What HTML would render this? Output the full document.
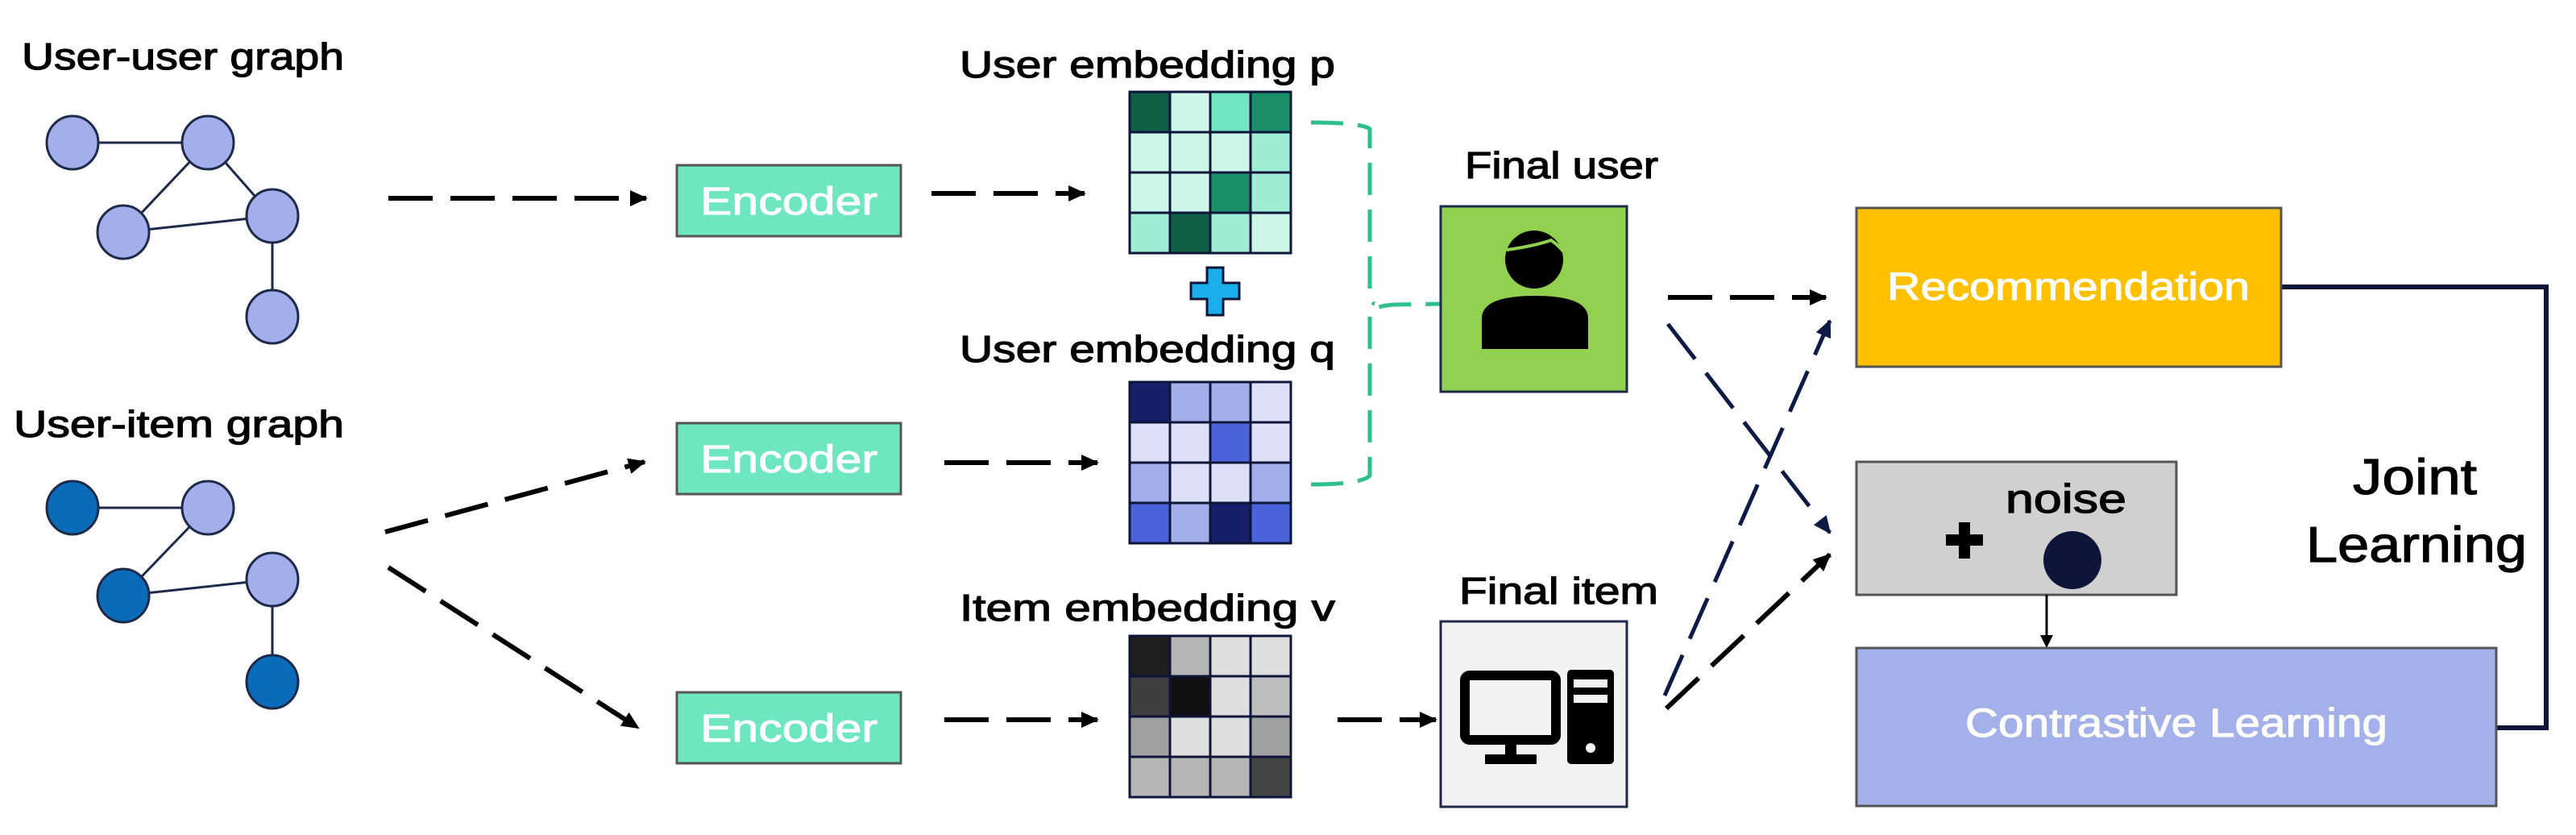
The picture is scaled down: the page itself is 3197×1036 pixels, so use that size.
<!DOCTYPE html>
<html><head><meta charset="utf-8"><style>html,body{margin:0;padding:0;background:#fff}svg{display:block}</style></head>
<body>
<svg width="3197" height="1036" viewBox="0 0 3197 1036" xmlns="http://www.w3.org/2000/svg" font-family="Liberation Sans, sans-serif">
<defs>
<marker id="ab" markerWidth="22" markerHeight="20" refX="20" refY="10" orient="auto" markerUnits="userSpaceOnUse" viewBox="0 0 22 20"><path d="M0,0 L22,10 L0,20z" fill="#000"/></marker>
<marker id="an" markerWidth="22" markerHeight="20" refX="20" refY="10" orient="auto" markerUnits="userSpaceOnUse" viewBox="0 0 22 20"><path d="M0,0 L22,10 L0,20z" fill="#0d1a45"/></marker>
</defs>
<g font-size="46" fill="#000" stroke="#000" stroke-width="1.2">
<text x="27" y="86" textLength="400" lengthAdjust="spacingAndGlyphs">User-user graph</text>
<text x="17" y="542" textLength="410" lengthAdjust="spacingAndGlyphs">User-item graph</text>
<text x="1191" y="96" textLength="466" lengthAdjust="spacingAndGlyphs">User embedding p</text>
<text x="1191" y="449" textLength="466" lengthAdjust="spacingAndGlyphs">User embedding q</text>
<text x="1191" y="770" textLength="466" lengthAdjust="spacingAndGlyphs">Item embedding v</text>
<text x="1818" y="221" textLength="240" lengthAdjust="spacingAndGlyphs">Final user</text>
<text x="1811" y="749" textLength="247" lengthAdjust="spacingAndGlyphs">Final item</text>
</g>
<g stroke="#1e2a4a" stroke-width="3">
<line x1="90" y1="177" x2="258" y2="177"/><line x1="258" y1="177" x2="153" y2="288"/><line x1="258" y1="177" x2="338" y2="268"/><line x1="153" y1="288" x2="338" y2="268"/><line x1="338" y1="268" x2="338" y2="393"/>
<line x1="90" y1="630" x2="258" y2="630"/><line x1="258" y1="630" x2="153" y2="739"/><line x1="153" y1="739" x2="338" y2="719"/><line x1="338" y1="719" x2="338" y2="846"/>
</g>
<g stroke="#1e2a4a" stroke-width="3" fill="#a4aeeb">
<ellipse cx="90" cy="177" rx="32" ry="33"/><ellipse cx="258" cy="177" rx="32" ry="33"/><ellipse cx="153" cy="288" rx="32" ry="33"/><ellipse cx="338" cy="268" rx="32" ry="33"/><ellipse cx="338" cy="393" rx="32" ry="33"/>
<ellipse cx="258" cy="630" rx="32" ry="33"/><ellipse cx="338" cy="719" rx="32" ry="33"/>
<ellipse cx="90" cy="630" rx="32" ry="33" fill="#0a6cb8"/><ellipse cx="153" cy="739" rx="32" ry="33" fill="#0a6cb8"/><ellipse cx="338" cy="846" rx="32" ry="33" fill="#0a6cb8"/>
</g>
<g fill="#6ee6c0" stroke="#555" stroke-width="3">
<rect x="840" y="205" width="278" height="88"/><rect x="840" y="525" width="278" height="88"/><rect x="840" y="859" width="278" height="88"/>
</g>
<g fill="#fff" stroke="#fff" stroke-width="1" font-size="48" text-anchor="middle">
<text x="979" y="266" textLength="220" lengthAdjust="spacingAndGlyphs">Encoder</text><text x="979" y="586" textLength="220" lengthAdjust="spacingAndGlyphs">Encoder</text><text x="979" y="920" textLength="220" lengthAdjust="spacingAndGlyphs">Encoder</text>
</g>
<g stroke="#000" stroke-width="6" stroke-dasharray="55,22" fill="none" marker-end="url(#ab)">
<line x1="482" y1="246" x2="802" y2="246"/>
<line x1="478" y1="660" x2="800" y2="573"/>
<line x1="482" y1="704" x2="792" y2="903"/>
<line x1="1156" y1="240" x2="1346" y2="240"/>
<line x1="1172" y1="574" x2="1362" y2="574"/>
<line x1="1172" y1="893" x2="1362" y2="893"/>
<line x1="1660" y1="893" x2="1782" y2="893"/>
<line x1="2070" y1="369" x2="2266" y2="369"/>
<line x1="2068" y1="879" x2="2271" y2="688"/>
</g>
<g stroke="#0d1a45" stroke-width="5" stroke-dasharray="55,22" fill="none" marker-end="url(#an)">
<line x1="2070" y1="402" x2="2271" y2="661"/>
<line x1="2066" y1="863" x2="2271" y2="398"/>
</g>
<g stroke="#0d1538" stroke-width="3">
<rect x="1402" y="114" width="50" height="50" fill="#0f5e46"/><rect x="1452" y="114" width="50" height="50" fill="#cdf5e8"/><rect x="1502" y="114" width="50" height="50" fill="#72e6c3"/><rect x="1552" y="114" width="50" height="50" fill="#1a8f6a"/>
<rect x="1402" y="164" width="50" height="50" fill="#cdf5e8"/><rect x="1452" y="164" width="50" height="50" fill="#cdf5e8"/><rect x="1502" y="164" width="50" height="50" fill="#cdf5e8"/><rect x="1552" y="164" width="50" height="50" fill="#9eecd4"/>
<rect x="1402" y="214" width="50" height="50" fill="#cdf5e8"/><rect x="1452" y="214" width="50" height="50" fill="#cdf5e8"/><rect x="1502" y="214" width="50" height="50" fill="#1a8f6a"/><rect x="1552" y="214" width="50" height="50" fill="#9eecd4"/>
<rect x="1402" y="264" width="50" height="50" fill="#9eecd4"/><rect x="1452" y="264" width="50" height="50" fill="#0f5e46"/><rect x="1502" y="264" width="50" height="50" fill="#9eecd4"/><rect x="1552" y="264" width="50" height="50" fill="#cdf5e8"/>
<rect x="1402" y="474" width="50" height="50" fill="#16206a"/><rect x="1452" y="474" width="50" height="50" fill="#a4aeeb"/><rect x="1502" y="474" width="50" height="50" fill="#a4aeeb"/><rect x="1552" y="474" width="50" height="50" fill="#dde0f7"/>
<rect x="1402" y="524" width="50" height="50" fill="#dde0f7"/><rect x="1452" y="524" width="50" height="50" fill="#dde0f7"/><rect x="1502" y="524" width="50" height="50" fill="#4a63d8"/><rect x="1552" y="524" width="50" height="50" fill="#dde0f7"/>
<rect x="1402" y="574" width="50" height="50" fill="#a4aeeb"/><rect x="1452" y="574" width="50" height="50" fill="#dde0f7"/><rect x="1502" y="574" width="50" height="50" fill="#dde0f7"/><rect x="1552" y="574" width="50" height="50" fill="#a4aeeb"/>
<rect x="1402" y="624" width="50" height="50" fill="#4a63d8"/><rect x="1452" y="624" width="50" height="50" fill="#a4aeeb"/><rect x="1502" y="624" width="50" height="50" fill="#16206a"/><rect x="1552" y="624" width="50" height="50" fill="#4a63d8"/>
<rect x="1402" y="789" width="50" height="50" fill="#1e1e1e"/><rect x="1452" y="789" width="50" height="50" fill="#b5b5b5"/><rect x="1502" y="789" width="50" height="50" fill="#dedede"/><rect x="1552" y="789" width="50" height="50" fill="#dedede"/>
<rect x="1402" y="839" width="50" height="50" fill="#3f3f3f"/><rect x="1452" y="839" width="50" height="50" fill="#111"/><rect x="1502" y="839" width="50" height="50" fill="#dedede"/><rect x="1552" y="839" width="50" height="50" fill="#bdbdbd"/>
<rect x="1402" y="889" width="50" height="50" fill="#a0a0a0"/><rect x="1452" y="889" width="50" height="50" fill="#dedede"/><rect x="1502" y="889" width="50" height="50" fill="#dedede"/><rect x="1552" y="889" width="50" height="50" fill="#a0a0a0"/>
<rect x="1402" y="939" width="50" height="50" fill="#b5b5b5"/><rect x="1452" y="939" width="50" height="50" fill="#b5b5b5"/><rect x="1502" y="939" width="50" height="50" fill="#b5b5b5"/><rect x="1552" y="939" width="50" height="50" fill="#444"/>
</g>
<path d="M1498,332 h20 v19 h20 v20 h-20 v20 h-20 v-20 h-20 v-20 h20z" fill="#1aaeea" stroke="#0d1538" stroke-width="3"/>
<g stroke="#2ebf8f" stroke-width="5" fill="none">
<path d="M1627,152 Q1690,152 1700,160 L1700,365 Q1700,375 1706,377" stroke-dasharray="40,18"/>
<path d="M1627,601 Q1690,601 1700,590 L1700,392 Q1700,380 1730,378 L1788,377" stroke-dasharray="40,18"/>
</g>
<rect x="1788" y="256" width="231" height="230" fill="#92d050" stroke="#1e2a4a" stroke-width="3"/>
<circle cx="1904" cy="322" r="36" fill="#000"/>
<path d="M1870,310 Q1905,305 1925,298 Q1935,305 1940,312" stroke="#92d050" stroke-width="4" fill="none"/>
<path d="M1839,433 L1839,395 Q1839,367 1905,367 Q1971,367 1971,395 L1971,433z" fill="#000"/>
<rect x="1788" y="771" width="231" height="230" fill="#f2f2f2" stroke="#1e2a4a" stroke-width="3"/>
<rect x="1818" y="838" width="113" height="80" rx="6" fill="none" stroke="#000" stroke-width="12"/>
<rect x="1868" y="920" width="14" height="20" fill="#000"/>
<rect x="1843" y="936" width="64" height="12" fill="#000"/>
<rect x="1945" y="831" width="58" height="117" rx="5" fill="#000"/>
<rect x="1953" y="843" width="42" height="10" fill="#f2f2f2"/>
<rect x="1953" y="862" width="42" height="10" fill="#f2f2f2"/>
<circle cx="1974" cy="928" r="6" fill="#f2f2f2"/>
<polyline points="2831,356 3160,356 3160,903 3098,903" fill="none" stroke="#0d1538" stroke-width="6"/>
<rect x="2304" y="258" width="527" height="197" fill="#ffc000" stroke="#555" stroke-width="3"/>
<text x="2567" y="372" fill="#fff" stroke="#fff" stroke-width="1" font-size="48" text-anchor="middle" textLength="450" lengthAdjust="spacingAndGlyphs">Recommendation</text>
<rect x="2304" y="573" width="397" height="165" fill="#d0d0d0" stroke="#555" stroke-width="3"/>
<text x="2489" y="636" font-size="50" stroke="#000" stroke-width="1.2" textLength="150" lengthAdjust="spacingAndGlyphs">noise</text>
<path d="M2431,648 h14 v15 h16 v14 h-16 v16 h-14 v-16 h-16 v-14 h16z" fill="#000"/>
<circle cx="2572" cy="695" r="36" fill="#0d1538"/>
<line x1="2540" y1="738" x2="2540" y2="792" stroke="#000" stroke-width="3"/>
<path d="M2532,788 L2548,788 L2540,804z" fill="#000"/>
<rect x="2304" y="804" width="794" height="196" fill="#a4b0ea" stroke="#555" stroke-width="3"/>
<text x="2701" y="914" fill="#fff" stroke="#fff" stroke-width="1" font-size="50" text-anchor="middle" textLength="524" lengthAdjust="spacingAndGlyphs">Contrastive Learning</text>
<text x="2920" y="613" font-size="62" stroke="#000" stroke-width="1.2" textLength="154" lengthAdjust="spacingAndGlyphs">Joint</text>
<text x="2862" y="697" font-size="62" stroke="#000" stroke-width="1.2" textLength="274" lengthAdjust="spacingAndGlyphs">Learning</text>
</svg>
</body></html>
